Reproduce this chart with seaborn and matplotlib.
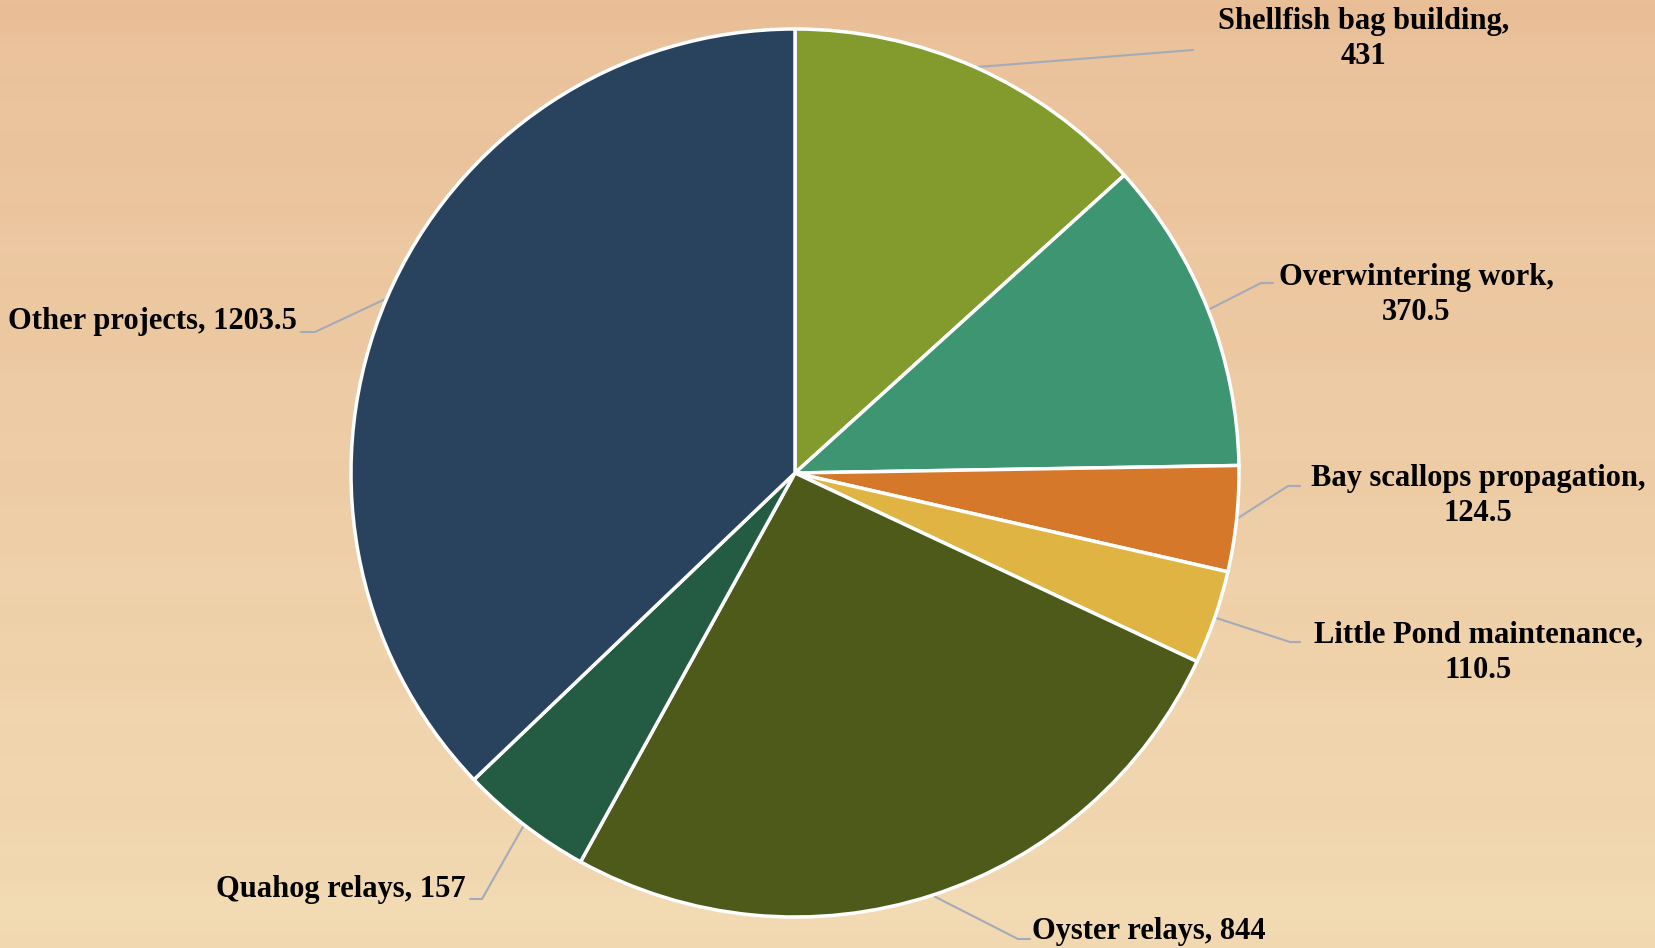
import numpy as np
import matplotlib
matplotlib.use('Agg')
import matplotlib.pyplot as plt
import seaborn as sns

# dados do grafico (sentido horario a partir do topo)
categorias = ['Shellfish bag building', 'Overwintering work', 'Bay scallops propagation',
              'Little Pond maintenance', 'Oyster relays', 'Quahog relays', 'Other projects']
horas = [431, 370.5, 124.5, 110.5, 844, 157, 1203.5]
rotulos = ['Shellfish bag building,\n431', 'Overwintering work,\n370.5',
           'Bay scallops propagation,\n124.5', 'Little Pond maintenance,\n110.5',
           'Oyster relays, 844', 'Quahog relays, 157', 'Other projects, 1203.5']
cores = ['#839A2D', '#3D9572', '#D6782A', '#DFB443', '#4E5A1A', '#235B43', '#29435F']

sns.set_theme(style='white')
plt.rcParams['font.family'] = ['Liberation Serif', 'DejaVu Serif']

W, H = 1655, 948
fig = plt.figure(figsize=(W / 100, H / 100), dpi=100)

# fundo tipo madeira clara (gradiente)
bg = fig.add_axes([0, 0, 1, 1])
yy = np.linspace(0, 1, 300)[:, None]
xx = np.linspace(0, 1, 400)[None, :]
topo = np.array([234, 192, 153]) / 255
base = np.array([242, 218, 179]) / 255
t = yy + 0.0 * xx
img = topo[None, None, :] * (1 - t[..., None]) + base[None, None, :] * t[..., None]
stripes = 0.005 * np.sin(yy * 90) + 0.004 * np.sin(yy * 37 + 1.3)
img = np.clip(img - stripes[..., None] * np.array([0.4, 0.8, 1.0]), 0, 1)
bg.imshow(img, aspect='auto', extent=[0, 1, 0, 1], origin='upper')
bg.axis('off')

# eixo da pizza: centro (795, 473) px, raio 444 px
cx, cy, r = 795, 473, 444
ax = fig.add_axes([(cx - r) / W, (H - cy - r) / H, 2 * r / W, 2 * r / H])
ax.patch.set_alpha(0)
wedges, _ = ax.pie(horas, colors=sns.color_palette(cores), startangle=90, counterclock=False,
                   radius=1, wedgeprops=dict(edgecolor='white', linewidth=2.5))
ax.set_xlim(-1, 1)
ax.set_ylim(-1, 1)
ax.axis('off')


def px(x, y):
    return ((x - cx) / r, (cy - y) / r)


# cotovelo da linha, fim da linha, posicao do texto, alinhamento
layout = [
    ((1193, 50), (1193, 50), (1364, 39), 'center'),
    ((1261, 283), (1273, 283), (1416, 295), 'center'),
    ((1288, 486), (1300, 486), (1478, 496), 'center'),
    ((1290, 642), (1300, 642), (1478, 653), 'center'),
    ((1018, 939), (1030, 939), (1032, 932), 'left'),
    ((482, 899), (470, 899), (466, 890), 'right'),
    ((315, 332), (301, 332), (297, 322), 'right'),
]

for w, txt, (cot, fim, pos, ha) in zip(wedges, rotulos, layout):
    ang = np.deg2rad((w.theta1 + w.theta2) / 2)
    x0, y0 = np.cos(ang), np.sin(ang)
    x1, y1 = px(*cot)
    x2, y2 = px(*fim)
    ax.plot([x0, x1, x2], [y0, y1, y2], color='#A3ABB8', lw=1.5, clip_on=False, zorder=0)
    tx, ty = px(*pos)
    ax.text(tx, ty, txt, ha=ha, va='center', fontsize=22, fontweight='bold',
            color='black', multialignment='center', linespacing=1.3)

fig.savefig('out.png', dpi=100)
